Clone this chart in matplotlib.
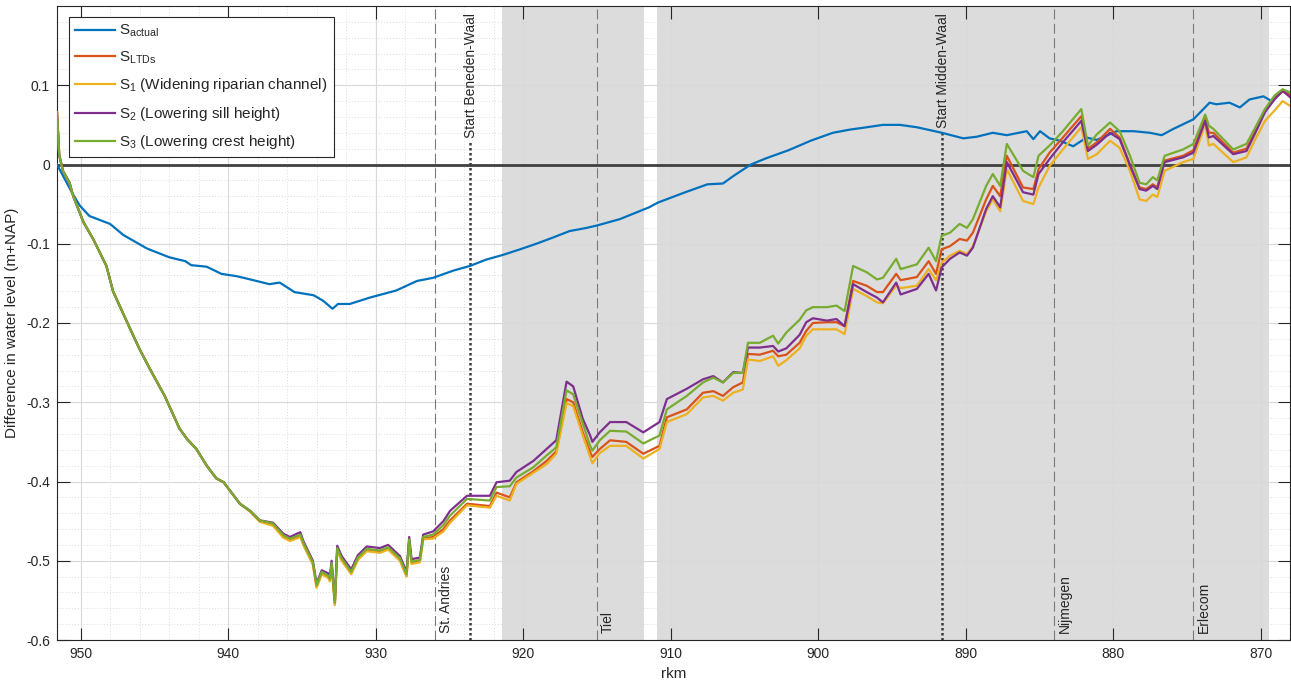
import matplotlib
matplotlib.use("Agg")
import matplotlib.pyplot as plt
from matplotlib.ticker import MultipleLocator, FixedLocator, FuncFormatter

plt.rcParams['font.family'] = ['Liberation Sans', 'DejaVu Sans']
plt.rcParams['mathtext.default'] = 'regular'
plt.rcParams['axes.unicode_minus'] = False

# ---------------- data ----------------
# Actual situation (S_actual)
km_actual = [951.6, 951.2, 950.6, 950.05, 949.4, 948.0, 947.1, 945.5, 944.0, 942.9,
             942.5, 941.45, 940.45, 939.4, 938.5, 937.2, 936.5, 935.5, 934.2, 933.55,
             932.92, 932.55, 931.75, 930.4, 928.6, 927.2, 926.1, 924.75, 923.6, 922.5,
             921.35, 920.2, 919.1, 917.95, 916.85, 915.7, 915.0, 913.45, 911.45, 910.85,
             909.0, 907.5, 906.45, 905.7, 904.55, 903.5, 902.0, 900.5, 899.0, 897.85,
             896.7, 895.6, 894.45, 893.3, 891.6, 890.15, 889.25, 888.15, 887.2, 885.85,
             885.4, 884.95, 884.3, 883.6, 882.7, 881.8, 881.1, 879.75, 878.6, 877.5,
             876.7, 875.9, 874.55, 873.45, 873.0, 872.1, 871.4, 870.75, 869.8, 869.25,
             868.5, 868.0]
s_actual = [0.000, -0.014, -0.035, -0.052, -0.065, -0.075, -0.089, -0.106, -0.117, -0.122,
            -0.127, -0.129, -0.138, -0.141, -0.145, -0.151, -0.149, -0.161, -0.165, -0.172,
            -0.182, -0.176, -0.176, -0.168, -0.159, -0.147, -0.143, -0.134, -0.128, -0.120,
            -0.114, -0.107, -0.100, -0.092, -0.084, -0.080, -0.077, -0.069, -0.054, -0.048,
            -0.035, -0.025, -0.024, -0.014, 0.000, 0.008, 0.018, 0.030, 0.040, 0.044,
            0.047, 0.050, 0.050, 0.047, 0.040, 0.033, 0.035, 0.040, 0.037, 0.042,
            0.032, 0.042, 0.033, 0.030, 0.023, 0.034, 0.031, 0.042, 0.042, 0.040,
            0.037, 0.045, 0.057, 0.078, 0.076, 0.078, 0.072, 0.082, 0.086, 0.080,
            0.093, 0.091]

# Scenarios share one set of river kilometres
km_scen = [951.6, 951.45, 951.2, 950.75, 950.5, 949.8, 949.15, 948.25, 947.8, 946.65,
           946.0, 945.3, 944.3, 943.3, 942.8, 942.15, 941.45, 940.8, 940.3, 939.2,
           938.5, 937.85, 936.95, 936.25, 935.8, 935.35, 935.1, 934.9, 934.25, 934.0,
           933.65, 933.2, 933.1, 932.98, 932.76, 932.6, 932.3, 931.65, 931.2, 930.6,
           929.7, 929.15, 928.35, 927.9, 927.72, 927.56, 927.0, 926.77, 926.1, 925.4,
           924.95, 923.8, 922.25, 921.8, 920.9, 920.45, 919.3, 918.4, 917.75, 917.05,
           916.6, 915.95, 915.45, 915.3, 914.8, 914.1, 913.0, 911.85, 910.75, 910.25,
           908.9, 907.8, 907.1, 906.45, 905.75, 905.1, 904.75, 903.95, 903.05, 902.7,
           902.15, 901.25, 900.8, 900.35, 899.4, 898.75, 898.2, 897.62, 896.7, 896.0,
           895.6, 894.7, 894.4, 893.3, 892.5, 892.0, 891.62, 891.05, 890.4, 889.9,
           889.5, 888.6, 888.15, 887.65, 887.2, 886.1, 885.4, 885.05, 884.3, 883.4,
           882.15, 881.7, 881.1, 880.2, 879.55, 878.85, 878.2, 877.75, 877.3, 877.0,
           876.5, 875.25, 874.55, 873.75, 873.5, 873.2, 871.85, 870.95, 870.4, 869.7,
           869.05, 868.5, 868.0]

s_ltds = [0.066, 0.012, -0.008, -0.023, -0.040, -0.073, -0.094, -0.128, -0.160, -0.207,
          -0.233, -0.258, -0.292, -0.333, -0.346, -0.359, -0.380, -0.396, -0.401, -0.428,
          -0.438, -0.450, -0.455, -0.470, -0.474, -0.471, -0.469, -0.479, -0.504, -0.533,
          -0.516, -0.521, -0.525, -0.505, -0.555, -0.486, -0.499, -0.516, -0.498, -0.487,
          -0.489, -0.485, -0.499, -0.519, -0.475, -0.503, -0.501, -0.472, -0.470, -0.460,
          -0.449, -0.428, -0.431, -0.414, -0.420, -0.401, -0.387, -0.374, -0.362, -0.296,
          -0.300, -0.338, -0.363, -0.369, -0.359, -0.348, -0.350, -0.365, -0.355, -0.319,
          -0.309, -0.288, -0.286, -0.292, -0.281, -0.275, -0.239, -0.240, -0.235, -0.242,
          -0.240, -0.225, -0.210, -0.200, -0.199, -0.199, -0.204, -0.147, -0.153, -0.161,
          -0.161, -0.138, -0.146, -0.142, -0.122, -0.138, -0.107, -0.103, -0.094, -0.096,
          -0.086, -0.044, -0.027, -0.040, 0.011, -0.029, -0.031, -0.006, 0.015, 0.034,
          0.061, 0.020, 0.028, 0.045, 0.034, 0.000, -0.029, -0.031, -0.025, -0.029,
          0.005, 0.011, 0.018, 0.059, 0.040, 0.040, 0.015, 0.020, 0.040, 0.067,
          0.084, 0.092, 0.088]

s1_widening = [0.066, 0.012, -0.008, -0.023, -0.040, -0.073, -0.094, -0.128, -0.160, -0.207,
               -0.233, -0.258, -0.292, -0.333, -0.346, -0.359, -0.380, -0.396, -0.401, -0.428,
               -0.438, -0.451, -0.456, -0.471, -0.475, -0.472, -0.470, -0.480, -0.505, -0.534,
               -0.517, -0.522, -0.526, -0.506, -0.556, -0.487, -0.500, -0.517, -0.499, -0.488,
               -0.490, -0.486, -0.500, -0.520, -0.476, -0.504, -0.502, -0.473, -0.472, -0.463,
               -0.452, -0.430, -0.433, -0.418, -0.424, -0.403, -0.389, -0.378, -0.365, -0.301,
               -0.305, -0.342, -0.369, -0.377, -0.364, -0.355, -0.355, -0.371, -0.359, -0.325,
               -0.315, -0.294, -0.292, -0.298, -0.288, -0.284, -0.246, -0.248, -0.242, -0.254,
               -0.247, -0.232, -0.216, -0.208, -0.208, -0.208, -0.214, -0.157, -0.166, -0.174,
               -0.175, -0.153, -0.156, -0.153, -0.132, -0.146, -0.124, -0.115, -0.109, -0.113,
               -0.103, -0.059, -0.044, -0.059, -0.006, -0.046, -0.050, -0.029, -0.002, 0.019,
               0.047, 0.007, 0.013, 0.030, 0.021, -0.008, -0.044, -0.046, -0.038, -0.041,
               -0.008, 0.003, 0.007, 0.051, 0.024, 0.026, 0.003, 0.009, 0.030, 0.055,
               0.068, 0.080, 0.074]

s2_sill = [0.066, 0.012, -0.008, -0.023, -0.040, -0.073, -0.094, -0.128, -0.160, -0.207,
           -0.233, -0.258, -0.292, -0.333, -0.346, -0.359, -0.380, -0.396, -0.401, -0.428,
           -0.437, -0.449, -0.452, -0.466, -0.470, -0.466, -0.464, -0.475, -0.500, -0.529,
           -0.512, -0.516, -0.520, -0.500, -0.551, -0.481, -0.494, -0.511, -0.493, -0.482,
           -0.484, -0.480, -0.494, -0.514, -0.470, -0.498, -0.496, -0.467, -0.463, -0.450,
           -0.437, -0.418, -0.418, -0.401, -0.399, -0.388, -0.374, -0.359, -0.348, -0.274,
           -0.280, -0.321, -0.342, -0.350, -0.338, -0.325, -0.325, -0.338, -0.325, -0.296,
           -0.283, -0.271, -0.267, -0.275, -0.262, -0.263, -0.231, -0.231, -0.229, -0.236,
           -0.232, -0.215, -0.199, -0.194, -0.197, -0.195, -0.204, -0.151, -0.161, -0.168,
           -0.174, -0.149, -0.164, -0.157, -0.138, -0.159, -0.130, -0.119, -0.111, -0.115,
           -0.105, -0.056, -0.040, -0.054, 0.003, -0.035, -0.038, -0.012, 0.007, 0.028,
           0.055, 0.017, 0.025, 0.040, 0.032, -0.001, -0.031, -0.033, -0.027, -0.031,
           0.003, 0.009, 0.015, 0.055, 0.034, 0.036, 0.013, 0.017, 0.038, 0.066,
           0.082, 0.093, 0.085]

s3_crest = [0.066, 0.012, -0.008, -0.023, -0.040, -0.073, -0.094, -0.128, -0.160, -0.207,
            -0.233, -0.258, -0.292, -0.333, -0.346, -0.359, -0.380, -0.396, -0.401, -0.428,
            -0.437, -0.449, -0.453, -0.468, -0.472, -0.469, -0.467, -0.477, -0.502, -0.531,
            -0.514, -0.519, -0.523, -0.503, -0.553, -0.484, -0.497, -0.514, -0.496, -0.485,
            -0.487, -0.483, -0.497, -0.517, -0.473, -0.501, -0.499, -0.470, -0.467, -0.455,
            -0.443, -0.422, -0.424, -0.407, -0.406, -0.395, -0.382, -0.367, -0.357, -0.285,
            -0.290, -0.327, -0.355, -0.361, -0.348, -0.336, -0.337, -0.352, -0.342, -0.309,
            -0.292, -0.275, -0.269, -0.275, -0.263, -0.263, -0.225, -0.225, -0.216, -0.226,
            -0.212, -0.196, -0.184, -0.180, -0.180, -0.178, -0.185, -0.128, -0.136, -0.145,
            -0.143, -0.119, -0.132, -0.126, -0.105, -0.122, -0.090, -0.086, -0.075, -0.080,
            -0.069, -0.027, -0.012, -0.027, 0.026, -0.008, -0.016, 0.011, 0.024, 0.042,
            0.070, 0.024, 0.038, 0.053, 0.042, 0.011, -0.023, -0.025, -0.016, -0.020,
            0.011, 0.019, 0.026, 0.063, 0.049, 0.045, 0.019, 0.026, 0.045, 0.070,
            0.087, 0.095, 0.091]

# Shaded river stretches (start km, end km)
shaded_from = [921.45, 910.9]
shaded_to = [911.8, 869.4]

# Locations marked with a dashed line and a label at the bottom
place_km = [926.0, 915.0, 884.0, 874.6]
place_names = ['St. Andries', 'Tiel', 'Nijmegen', 'Erlecom']

# Start of river sections, dotted line with a label at the top
section_km = [923.6, 891.6]
section_names = ['Start Beneden-Waal', 'Start Midden-Waal']

series_labels = ['S$_{actual}$', 'S$_{LTDs}$', 'S$_1$ (Widening riparian channel)',
                 'S$_2$ (Lowering sill height)', 'S$_3$ (Lowering crest height)']
series_colors = ['#0072BD', '#D95319', '#EDB120', '#7E2F8E', '#77AC30']

# ---------------- figure ----------------
W, H = 1291, 683
fig = plt.figure(figsize=(W / 100, H / 100), dpi=100)
ax = fig.add_axes([57 / W, 43 / H, 1233 / W, 634 / H])
ax.set_xlim(951.6, 868.0)
ax.set_ylim(-0.6, 0.2)

for a, b in zip(shaded_from, shaded_to):
    ax.axvspan(a, b, color='#dcdcdc', lw=0, zorder=0.2)

ax.set_axisbelow(True)
ax.xaxis.set_major_locator(MultipleLocator(10))
ax.xaxis.set_minor_locator(MultipleLocator(2))
ax.yaxis.set_major_locator(FixedLocator([-0.6, -0.5, -0.4, -0.3, -0.2, -0.1, 0.0, 0.1]))
ax.yaxis.set_minor_locator(MultipleLocator(0.02))
ax.yaxis.set_major_formatter(FuncFormatter(lambda v, p: '%g' % round(v, 2)))
ax.grid(which='major', color='#d9d9d9', lw=0.8, ls='-')
ax.grid(which='minor', color='#dcdcdc', lw=0.7, ls=(0, (1, 2)))
ax.tick_params(which='major', direction='in', length=9, width=0.8, top=True, right=True,
               colors='#262626', labelsize=10, pad=5)
ax.tick_params(which='minor', length=0, top=True, right=True)
for s in ax.spines.values():
    s.set_color('#262626')
    s.set_linewidth(0.8)

ax.axhline(0, color='#404040', lw=2.0, zorder=1.5)

for km in place_km:
    ax.axvline(km, color='#7a7a7a', lw=0.8, ls=(0, (9, 4)), zorder=1.6)
for km, name in zip(place_km, place_names):
    ax.annotate(name, xy=(km, -0.6), xytext=(8, 5), textcoords='offset points',
                rotation=90, ha='center', va='bottom', fontsize=10, color='#262626')

section_texts = []
for km, name in zip(section_km, section_names):
    t = ax.annotate(name, xy=(km, 0.2), xytext=(1, -5), textcoords='offset points',
                    rotation=90, ha='center', va='top', fontsize=10, color='#262626')
    section_texts.append(t)

ys = [s_actual, s_ltds, s1_widening, s2_sill, s3_crest]
xs = [km_actual, km_scen, km_scen, km_scen, km_scen]
for x, y, c, lab in zip(xs, ys, series_colors, series_labels):
    ax.plot(x, y, color=c, lw=1.6, label=lab, zorder=3)

leg = ax.legend(loc='upper left', bbox_to_anchor=(0.0095, 0.983), borderaxespad=0,
                fontsize=11, frameon=True, fancybox=False, framealpha=1,
                edgecolor='#262626', handlelength=2.6, handletextpad=0.3,
                labelspacing=0.68, borderpad=0.4)
leg.get_frame().set_linewidth(0.8)
for txt in leg.get_texts():
    txt.set_color('#262626')

ax.set_xlabel('rkm', fontsize=11, color='#262626', labelpad=4)
ax.set_ylabel('Difference in water level (m+NAP)', fontsize=11, color='#262626', labelpad=5)

# Dotted section lines stop just below their labels
fig.canvas.draw()
inv = ax.transData.inverted()
for km, t in zip(section_km, section_texts):
    bb = t.get_window_extent()
    y_top = inv.transform((0, bb.y0 - 3))[1]
    ax.plot([km, km], [-0.6, y_top], color='#3a3a3a', lw=1.8, ls=(0, (1, 1)), zorder=1.7)

fig.savefig('out.png', dpi=100)
